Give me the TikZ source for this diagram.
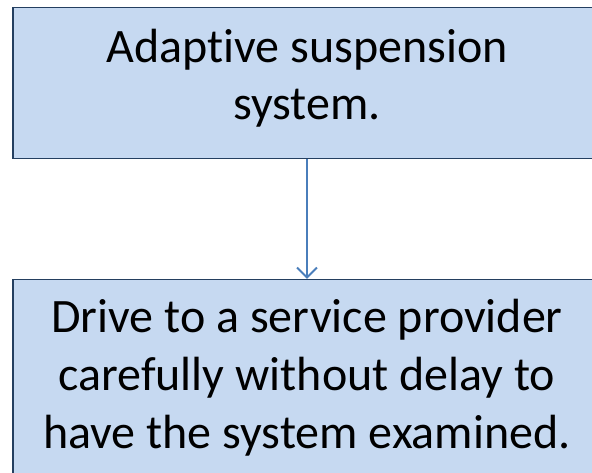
\documentclass[tikz,border=0pt]{standalone}
\usepackage{fontspec}
\setmainfont[Ligatures={NoCommon,NoDiscretionary}]{Carlito}
\usetikzlibrary{arrows.meta}
\definecolor{boxfill}{HTML}{C6D9F1}
\definecolor{boxline}{HTML}{243F60}
\definecolor{arrowc}{HTML}{4A7EBB}
\begin{document}
\begin{tikzpicture}[x=1pt,y=1pt,
  box/.style={draw=boxline, fill=boxfill, line width=1.5pt, anchor=north west, inner sep=0pt},
  lbl/.style={font=\fontsize{48}{58}\selectfont, anchor=base, inner sep=0pt},
  conn/.style={draw=arrowc, line width=2pt, -{Straight Barb[length=10pt,width=20pt,line width=2pt]}}]
\useasboundingbox (0,0) rectangle (592,473);
\clip (0,0) rectangle (592,473);
\fill[white] (0,0) rectangle (592,473);
\node[box, minimum width=590pt, minimum height=151pt] (top) at (12,466) {};
\node[box, minimum width=590pt, minimum height=200pt] (bot) at (12,194) {};
\node[lbl] (t1) at (307,410) {Adaptive suspension};
\node[lbl] (t2) at (307,353) {system.};
\node[lbl] (b1) at (307,140) {Drive to a service provider};
\node[lbl] (b2) at (307,82) {carefully without delay to};
\node[lbl] (b3) at (307,24) {have the system examined.};
\draw[conn] (top.south -| t1) -- (bot.north -| t1);
\end{tikzpicture}
\end{document}
